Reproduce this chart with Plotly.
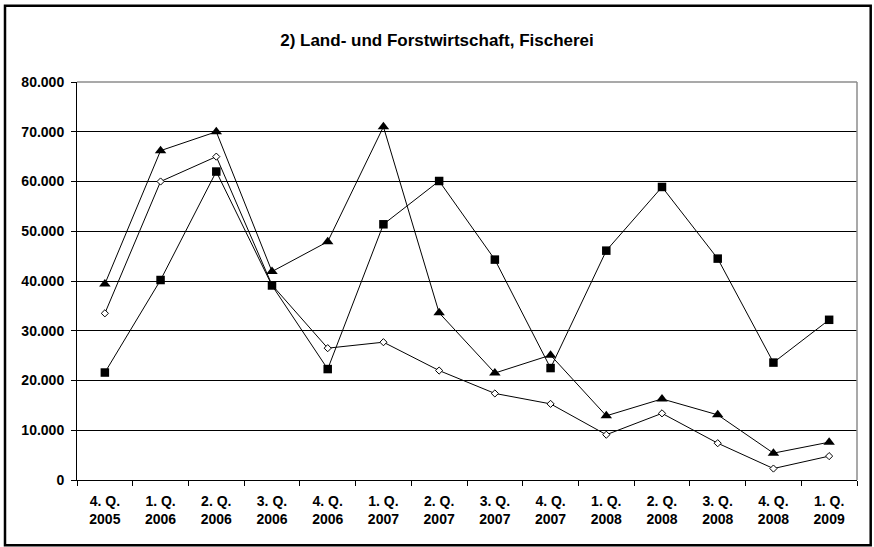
import plotly.graph_objects as go

# Quarterly values, Land- und Forstwirtschaft, Fischerei
quarters = ["4. Q.<br>2005", "1. Q.<br>2006", "2. Q.<br>2006", "3. Q.<br>2006",
            "4. Q.<br>2006", "1. Q.<br>2007", "2. Q.<br>2007", "3. Q.<br>2007",
            "4. Q.<br>2007", "1. Q.<br>2008", "2. Q.<br>2008", "3. Q.<br>2008",
            "4. Q.<br>2008", "1. Q.<br>2009"]

series_triangle = [39400, 66200, 70000, 41900, 47900, 71000, 33600, 21500,
                   25100, 12900, 16300, 13100, 5400, 7600]
series_square = [21600, 40200, 62000, 39100, 22300, 51400, 60100, 44300,
                 22500, 46100, 58900, 44500, 23600, 32200]
series_diamond = [33500, 60000, 65000, 39200, 26500, 27700, 22000, 17400,
                  15300, 9100, 13400, 7400, 2300, 4800]

y_ticks = [0, 10000, 20000, 30000, 40000, 50000, 60000, 70000, 80000]

FONT = "Liberation Sans, Arial, sans-serif"

fig = go.Figure()

fig.add_trace(go.Scatter(
    x=quarters, y=series_diamond, mode="lines+markers", name="Reihe 3",
    line=dict(color="black", width=1),
    marker=dict(symbol="diamond", size=5.5, color="white",
                line=dict(color="black", width=1)),
))
fig.add_trace(go.Scatter(
    x=quarters, y=series_triangle, mode="lines+markers", name="Reihe 2",
    line=dict(color="black", width=1),
    marker=dict(symbol="triangle-up", size=10, color="black"),
))
fig.add_trace(go.Scatter(
    x=quarters, y=series_square, mode="lines+markers", name="Reihe 1",
    line=dict(color="black", width=1),
    marker=dict(symbol="square", size=8.5, color="black"),
))

fig.update_layout(
    width=874, height=547,
    margin=dict(l=77, r=17, t=82, b=67),
    paper_bgcolor="white", plot_bgcolor="white",
    separators=",.",
    showlegend=False,
    title=dict(text="<b>2) Land- und Forstwirtschaft, Fischerei</b>",
               x=0.5, xanchor="center", y=1 - 40 / 547, yanchor="middle",
               font=dict(family=FONT, size=17, color="black")),
    font=dict(family=FONT, size=14, color="black"),
    xaxis=dict(
        type="category", showgrid=False, zeroline=False,
        showline=True, linecolor="black", linewidth=1,
        ticks="outside", ticklen=5, tickcolor="black", tickson="boundaries",
        ticklabelstandoff=8,
        tickfont=dict(family=FONT, size=14, color="black"),
        range=[-0.5, len(quarters) - 0.5],
    ),
    yaxis=dict(
        range=[0, 80000], tickvals=y_ticks, tickformat=",.0f",
        showgrid=True, gridcolor="black", gridwidth=1,
        zeroline=False, showline=True, linecolor="black", linewidth=1,
        ticks="outside", ticklen=5, tickcolor="black",
        ticklabelstandoff=4,
        tickfont=dict(family=FONT, size=14, color="black"),
    ),
    shapes=[
        # grey top and right edge of the plotting area
        dict(type="line", xref="paper", yref="paper", x0=0, x1=1, y0=1, y1=1,
             line=dict(color="#8c8c8c", width=1.5), layer="above"),
        dict(type="line", xref="paper", yref="paper", x0=1, x1=1, y0=0, y1=1,
             line=dict(color="#8c8c8c", width=1.5), layer="above"),
        # black frame around the whole chart
        dict(type="rect", xref="paper", yref="paper",
             x0=(5 - 77) / 780, x1=(870.7 - 77) / 780,
             y0=(480 - 545.3) / 398, y1=(480 - 5.8) / 398,
             line=dict(color="black", width=2.5), layer="above"),
    ],
)

# bold tick labels
fig.update_xaxes(ticktext=[f"<b>{q}</b>" for q in quarters], tickvals=quarters)
fig.update_yaxes(ticktext=[f"<b>{v:,.0f}</b>".replace(",", ".") for v in y_ticks])

fig.write_html("out.html")
